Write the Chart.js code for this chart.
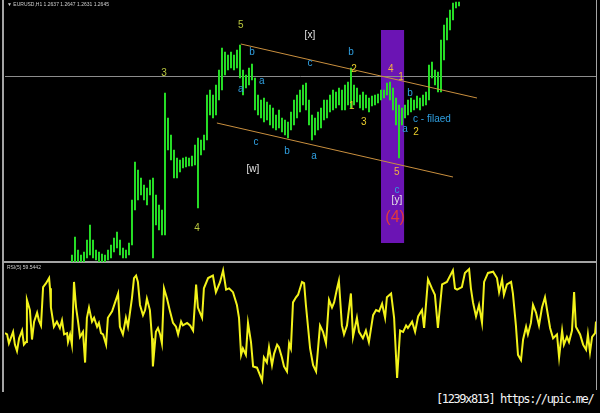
<!DOCTYPE html>
<html>
<head>
<meta charset="utf-8">
<script src="https://cdn.jsdelivr.net/npm/chart.js@4"></script>
<style>
  html,body{margin:0;padding:0;background:#000;}
  body{width:600px;height:413px;position:relative;overflow:hidden;font-family:"Liberation Sans",Arial,sans-serif;}
  .ln{position:absolute;background:#a4a4a4;}
  #main{position:absolute;left:5px;top:0;}
  #rsi{position:absolute;left:5px;top:264px;}
  .hdr{position:absolute;color:#cfcfcf;font-size:5px;white-space:nowrap;}
  #wm{position:absolute;left:436px;top:392px;color:#f4f4f4;font:12px "DejaVu Sans Mono",monospace;letter-spacing:-1.4px;white-space:nowrap;}
</style>
</head>
<body>
<div class="ln" style="left:2px;top:0;width:2px;height:392px;"></div>
<div class="ln" style="left:596px;top:0;width:1px;height:390px;"></div>
<div class="ln" style="left:3px;top:261px;width:594px;height:2px;"></div>
<canvas id="main" width="591" height="262"></canvas>
<canvas id="rsi" width="591" height="128"></canvas>
<div class="hdr" style="left:7px;top:1px;">▼ EURUSD,H1 1.2637 1.2647 1.2631 1.2645</div>
<div class="hdr" style="left:7px;top:264px;">RSI(5) 59.5442</div>
<div id="wm">[1239x813] https://upic.me/</div>
<script>
// ---- price bars (one per bar index, values in points) ----
const candleHigh = [7,25,12,7,10,22,37,22,12,10,8,7,12,17,24,30,22,14,12,19,
  62,100,92,84,77,74,82,84,67,57,52,169,144,127,112,104,102,104,105,104,
  106,117,124,122,127,167,172,167,177,192,214,210,207,210,207,212,217,192,187,194,
  198,184,167,162,164,160,157,154,147,152,144,142,140,150,162,167,172,177,179,162,
  147,144,150,154,162,162,167,172,170,174,172,177,180,194,177,174,167,170,167,164,
  166,167,168,172,172,179,180,174,164,157,154,157,162,164,162,166,164,167,170,197,
  200,192,190,222,237,244,252,259,260,260];
const candleLow = [0,0,0,0,0,4,7,4,2,0,0,0,2,4,10,14,7,4,4,7,
  17,52,62,67,62,57,67,4,37,32,27,27,112,102,84,84,90,94,95,96,
  96,97,54,107,112,122,147,144,147,162,172,187,192,194,192,194,184,167,174,177,
  182,152,147,144,140,142,137,134,132,134,130,127,124,132,137,144,150,157,152,137,
  122,127,132,134,142,144,150,152,154,157,152,152,157,154,157,160,154,152,154,150,
  156,157,159,162,164,167,162,152,137,104,137,144,147,150,152,154,152,156,157,162,
  184,177,170,170,202,222,232,242,254,256];

// ---- analysis overlays (bar index / price) ----
const priceLevel = 186;
const upperChannel = [{x:56.3,y:218},{x:135,y:164}];
const lowerChannel = [{x:48.3,y:139},{x:127,y:85}];
const band = {from:103, to:110.7, low:19, high:232};
const waveLabels = [
  ['5',56.3,237,'olive'],['3',30.7,189,'olive'],['4',41.7,34,'olive'],
  ['[x]',79.3,227,'white'],['b',60,210,'blue'],['a',56.3,173,'blue'],['a',63.3,181,'blue'],
  ['c',79.3,199,'blue'],['b',93,210,'blue'],['2',94,193,'yellow'],['1',93.3,156,'yellow'],
  ['3',97.3,140,'yellow'],['4',106.3,193,'orange'],['1',109.7,185,'orange'],
  ['b',112.7,169,'blue'],['a',111,133,'blue'],['c - filaed',120,143,'blue'],
  ['2',114.7,130,'yellow'],['c',61.3,120,'blue'],['b',71.7,111,'blue'],['a',80.7,106,'blue'],
  ['[w]',60.3,93,'white'],['5',108.3,90,'orange'],['c',108.3,72,'blue'],['[y]',108.3,62,'white'],
  ['(4)',107.7,44,'red']
];

// ---- RSI(5) ----
const rsiBar = [0,0.7,1.3,2.7,3.3,4,4.7,5.7,6.3,7,7.3,8.3,9,9.7,10.7,11.3,12,12.7,13.7,14.7,
  15,15.3,16.3,17.3,18.3,19,19.7,20.7,21,21.7,22.3,23,23.7,24.3,25,26,26.7,27.3,28,29,
  29.7,30.7,31.3,32,32.7,33.7,34.3,35.7,36.7,37.7,38.3,39.3,40.3,41,42.3,43,43.7,44.3,45,46,
  46.7,47.3,48.3,49,49.3,50.3,51,51.7,52.3,53,54,55,56,57,57.7,58.7,59.3,60.7,61.7,62.7,
  63.7,64.3,65.7,66.3,67.7,69.3,70.3,71.7,72.7,73.7,74.7,76,77.3,78,78.7,79.3,80.3,81,82,82.7,
  84,84.7,85.7,86.3,87.3,88,89,89.7,90.7,91.3,92.3,93,94,94.7,95.3,96,97,97.7,99,99.7,
  100.3,101.7,102.7,103.7,105,106,107,108,109,109.7,110.7,111.3,112.3,113,114,115.3,116,117.3,118,119.3,
  120.3,121.3,122.7,123.7,124.7,125.7,126.7,127.3,128.7,129.7,130.7,131.7,132.7,133.7,134.3,135.7,136.7,137.7,139,139.7,
  141,142.3,143.3,144.3,145.7,147.3,149.3,150,150.7,152.3,153.3,154.7,155.3,156,157,158,159,159.7,161,162.7,
  164,164.7,165.7,166.3,167.3,168.7,169.3,170.3,171,172,172.7,173.7,174.3,175.3,176,177,178,179,180,180.7,
  181.7,182.7,184,184.7,185.7,186.3,187.3,188,189,189.7,190.3,191.7,192.7,193.7,194.3,195,195.7,196.7,197];
const rsiValue = [46,45,38,47,37,32,42,48,37,39,72,64,41,55,62,56,52,82,85,89,
  81,66,51,55,50,56,45,46,39,45,37,86,66,56,43,47,23,58,66,55,
  58,51,54,46,45,37,58,63,70,77,51,45,58,51,73,89,91,86,68,60,
  64,73,64,42,20,47,50,45,38,81,73,63,54,51,45,55,52,54,52,48,
  84,66,58,81,89,91,78,86,95,80,81,78,68,58,29,34,29,54,39,20,
  19,15,9,27,23,35,21,30,37,35,27,20,16,38,34,70,74,76,86,85,
  68,34,21,16,52,47,38,72,66,70,81,87,52,45,52,77,43,58,47,42,
  48,39,60,64,63,69,58,74,77,58,11,48,47,52,50,55,47,59,64,50,
  88,81,76,50,84,86,95,81,80,82,93,96,81,70,59,68,54,86,93,94,
  89,78,88,76,84,86,77,52,29,25,41,51,45,54,68,62,52,66,74,64,
  50,42,45,27,48,37,43,39,48,78,51,45,37,33,45,31,43,46,55];

const COLORS = {olive:'#b9c73e', white:'#e6e6e6', blue:'#2f9fe0', yellow:'#e9cc2c', orange:'#f2b440', red:'#e23a3a'};

const overlayPlugin = {
  id:'overlay',
  beforeDatasetsDraw(chart){
    const {ctx, scales:{x,y}, chartArea:a} = chart;
    ctx.save();
    ctx.fillStyle = '#6b14b4';
    const x0 = x.getPixelForValue(band.from), x1 = x.getPixelForValue(band.to);
    const y0 = y.getPixelForValue(band.high), y1 = y.getPixelForValue(band.low);
    ctx.fillRect(x0, y0, x1-x0, y1-y0);
    ctx.strokeStyle = '#8c8c8c'; ctx.lineWidth = 1;
    const py = Math.round(y.getPixelForValue(priceLevel)) + 0.5;
    ctx.beginPath(); ctx.moveTo(a.left, py); ctx.lineTo(a.right, py); ctx.stroke();
    ctx.restore();
  },
  afterDatasetsDraw(chart){
    const {ctx, scales:{x,y}} = chart;
    ctx.save();
    ctx.textAlign = 'center'; ctx.textBaseline = 'middle';
    waveLabels.forEach(([t,xv,yv,c])=>{
      ctx.font = t === '(4)' ? '16px "Liberation Sans", Arial' : '10px "Liberation Sans", Arial';
      ctx.fillStyle = COLORS[c];
      ctx.fillText(t, x.getPixelForValue(xv), y.getPixelForValue(yv));
    });
    ctx.restore();
  }
};

new Chart(document.getElementById('main'), {
  type:'bar',
  data:{datasets:[
    {type:'bar', data:candleHigh.map((h,i)=>({x:i, y:[candleLow[i], h]})), backgroundColor:'#27e027', barThickness:1.3, grouped:false, order:2},
    {type:'line', data:upperChannel, borderColor:'#c98f3e', borderWidth:1, pointRadius:0, order:1},
    {type:'line', data:lowerChannel, borderColor:'#c98f3e', borderWidth:1, pointRadius:0, order:1}
  ]},
  options:{
    responsive:false, animation:false, devicePixelRatio:1,
    layout:{padding:0},
    plugins:{legend:{display:false}, tooltip:{enabled:false}},
    scales:{
      x:{type:'linear', min:-22.33, max:174.67, offset:false, display:false},
      y:{min:0, max:262, display:false}
    }
  },
  plugins:[overlayPlugin]
});

new Chart(document.getElementById('rsi'), {
  type:'line',
  data:{datasets:[{data:rsiBar.map((b,i)=>({x:b, y:rsiValue[i]})), borderColor:'#f2f21a', borderWidth:2, pointRadius:0, tension:0}]},
  options:{
    responsive:false, animation:false, devicePixelRatio:1,
    layout:{padding:0},
    plugins:{legend:{display:false}, tooltip:{enabled:false}},
    scales:{
      x:{type:'linear', min:0, max:197, display:false},
      y:{min:0, max:100, display:false}
    }
  }
});
</script>
</body>
</html>
